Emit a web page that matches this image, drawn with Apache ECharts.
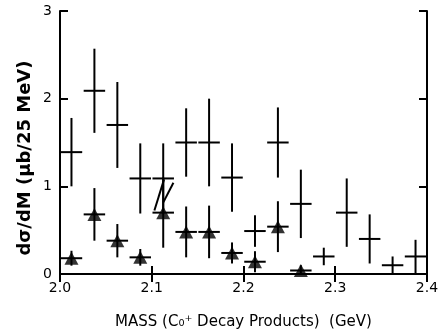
<!DOCTYPE html>
<html>
<head>
<meta charset="utf-8">
<script src="https://cdn.jsdelivr.net/npm/echarts@6/dist/echarts.min.js"></script>
<style>
html,body{margin:0;padding:0;background:#fff;}
#chart{width:443px;height:335px;}
</style>
</head>
<body>
<div id="chart"></div>
<script>
// Bin centres (GeV), 25 MeV bins
const masses = [2.0125, 2.0375, 2.0625, 2.0875, 2.1125, 2.1375, 2.1625, 2.1875,
                2.2125, 2.2375, 2.2625, 2.2875, 2.3125, 2.3375, 2.3625, 2.3875];
// All events (open crosses)
const allVals = [1.39, 2.09, 1.70, 1.09, 1.09, 1.50, 1.50, 1.10, 0.49, 1.50, 0.80, 0.20, 0.70, 0.40, 0.10, 0.20];
const allErrs = [0.39, 0.48, 0.49, 0.40, 0.40, 0.39, 0.50, 0.39, 0.18, 0.40, 0.39, 0.10, 0.39, 0.28, 0.10, 0.19];
// Subset (filled triangles)
const subMasses = masses.slice(0, 11);
const subVals = [0.18, 0.68, 0.38, 0.19, 0.70, 0.48, 0.48, 0.24, 0.14, 0.54, 0.04];
const subErrs = [0.085, 0.30, 0.19, 0.095, 0.40, 0.29, 0.30, 0.12, 0.12, 0.29, 0.06];
// "//" annotation segments (data coordinates)
const slashA = [[2.1029, 0.725], [2.1134, 1.079]];
const slashB = [[2.1126, 0.817], [2.1236, 1.040]];
const xTicks = ['2.0', '2.1', '2.2', '2.3', '2.4'];
const yTicks = ['0', '1', '2', '3'];
const yTitle = 'd\u03C3/dM (\u03BCb/25 MeV)';
const xTitle = 'MASS (C\u2080\u207A Decay Products)  (GeV)';
const binWidth = 0.025;

const halfBin = binWidth / 2 - 0.0008;
const font = 'DejaVu Sans';

function errRender(params, api) {
  const x = api.value(0), y = api.value(1), e = api.value(2);
  const top = api.coord([x, y + e]);
  const bot = api.coord([x, Math.max(0, y - e)]);
  const l = api.coord([x - halfBin, y]);
  const r = api.coord([x + halfBin, y]);
  const st = { stroke: '#000', lineWidth: 2 };
  return {
    type: 'group',
    children: [
      { type: 'line', shape: { x1: top[0], y1: top[1], x2: bot[0], y2: bot[1] }, style: st },
      { type: 'line', shape: { x1: l[0], y1: l[1], x2: r[0], y2: r[1] }, style: st }
    ]
  };
}

const allData = masses.map((m, i) => [m, allVals[i], allErrs[i]]);
const subData = subMasses.map((m, i) => [m, subVals[i], subErrs[i]]);

const axisLine = { show: true, lineStyle: { color: '#000', width: 2 } };
const tick = { show: true, inside: true, length: 8, lineStyle: { color: '#000', width: 2 } };

const chart = echarts.init(document.getElementById('chart'), null, { renderer: 'canvas' });
chart.setOption({
  animation: false,
  backgroundColor: '#fff',
  grid: { left: 60, right: 16, top: 11, bottom: 55 },
  graphic: [{
    type: 'text', x: 25, y: 158, rotation: Math.PI / 2,
    style: { text: yTitle, fill: '#000', font: 'bold 18px "DejaVu Sans"',
             textAlign: 'center', textVerticalAlign: 'middle' }
  }],
  xAxis: [{
    type: 'value', min: 2.0, max: 2.4, interval: 0.1, position: 'bottom',
    axisLine: axisLine, axisTick: tick, splitLine: { show: false },
    axisLabel: { color: '#000', fontFamily: font, fontSize: 14, margin: 7,
      formatter: v => xTicks[Math.round((v - 2.0) / 0.1)] },
    name: xTitle,
    nameLocation: 'middle', nameGap: 41,
    nameTextStyle: { color: '#000', fontFamily: font, fontSize: 15 }
  }, {
    type: 'value', min: 2.0, max: 2.4, interval: 0.1, position: 'top',
    axisLine: axisLine, axisTick: tick, splitLine: { show: false },
    axisLabel: { show: false }
  }],
  yAxis: [{
    type: 'value', min: 0, max: 3, interval: 1, position: 'left',
    axisLine: axisLine, axisTick: tick, splitLine: { show: false },
    axisLabel: { color: '#000', fontFamily: font, fontSize: 14, margin: 8,
      formatter: v => yTicks[Math.round(v)] }
  }, {
    type: 'value', min: 0, max: 3, interval: 1, position: 'right',
    axisLine: axisLine, axisTick: tick, splitLine: { show: false },
    axisLabel: { show: false }
  }],
  series: [
    { type: 'custom', name: 'all', xAxisIndex: 0, yAxisIndex: 0, renderItem: errRender, data: allData, z: 3 },
    { type: 'custom', name: 'subErr', xAxisIndex: 0, yAxisIndex: 0, renderItem: errRender, data: subData, z: 4 },
    { type: 'scatter', name: 'sub', xAxisIndex: 0, yAxisIndex: 0, symbol: 'triangle', symbolSize: [14, 13],
      itemStyle: { color: '#000' }, data: subMasses.map((m, i) => [m, subVals[i]]), z: 5 },
    { type: 'line', xAxisIndex: 0, yAxisIndex: 0, data: slashA, symbol: 'none',
      lineStyle: { color: '#000', width: 2 }, z: 3 },
    { type: 'line', xAxisIndex: 0, yAxisIndex: 0, data: slashB, symbol: 'none',
      lineStyle: { color: '#000', width: 2 }, z: 3 }
  ]
});
</script>
</body>
</html>
